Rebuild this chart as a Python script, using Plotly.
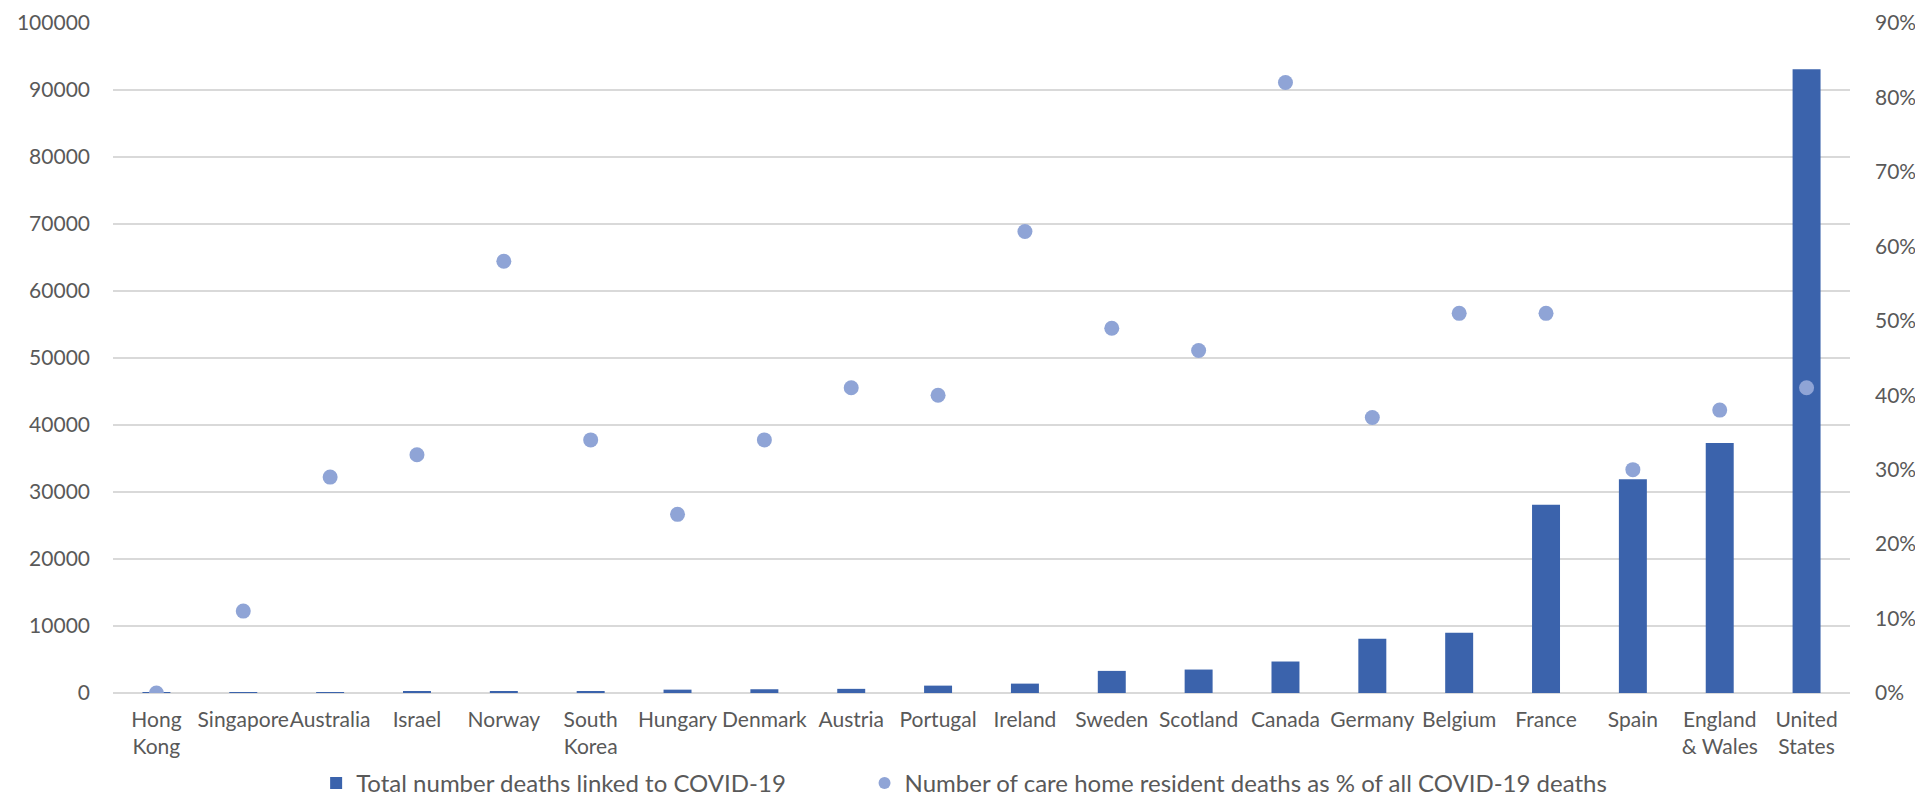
import plotly.graph_objects as go

countries = ["Hong<br>Kong", "Singapore", "Australia", "Israel", "Norway", "South<br>Korea",
             "Hungary", "Denmark", "Austria", "Portugal", "Ireland", "Sweden", "Scotland",
             "Canada", "Germany", "Belgium", "France", "Spain", "England<br>& Wales",
             "United<br>States"]
total_deaths = [4, 26, 102, 280, 240, 280, 500, 560, 620, 1100, 1400, 3300, 3500, 4700,
                8100, 9000, 28100, 31900, 37300, 93100]
care_home_pct = [0.00, 0.11, 0.29, 0.32, 0.58, 0.34, 0.24, 0.34, 0.41, 0.40, 0.62, 0.49,
                 0.46, 0.82, 0.37, 0.51, 0.51, 0.30, 0.38, 0.41]
left_ticks = list(range(0, 100001, 10000))
right_ticks = [i / 10 for i in range(0, 10)]

FONT = "Lato, 'Open Sans', sans-serif"
TEXT = "#595959"
GRID = "#D9D9D9"

fig = go.Figure()
fig.add_trace(go.Bar(
    x=countries, y=total_deaths,
    name="Total number deaths linked to COVID-19" + "\u00a0" * 12,
    marker=dict(color="#3B63AC", line=dict(width=0)), yaxis="y",
))
fig.add_trace(go.Scatter(
    x=countries, y=care_home_pct, mode="markers",
    name="Number of care home resident deaths as % of all COVID-19 deaths",
    marker=dict(color="#8FA4D6", size=15, symbol="circle"), yaxis="y2",
))

# the page body has an 8px margin, so the figure is sized to fit inside the window
fig.update_layout(
    width=1907, height=795,
    margin=dict(l=105, r=65, t=15, b=110, autoexpand=False),
    paper_bgcolor="white", plot_bgcolor="white",
    font=dict(family=FONT, size=21, color=TEXT),
    bargap=0.678,
    showlegend=True,
    legend=dict(orientation="h", x=0.490, xanchor="center", y=-0.135, yanchor="middle",
                font=dict(size=24, color=TEXT), itemsizing="constant",
                traceorder="normal", itemwidth=30),
    xaxis=dict(range=[-0.5, len(countries) - 0.5], autorange=False,
               showgrid=False, showline=False, ticks="", tickangle=0, automargin=False,
               ticklabelstandoff=12, tickfont=dict(size=21, color=TEXT)),
    yaxis=dict(range=[0, 100000], tickvals=left_ticks, ticktext=[str(v) for v in left_ticks],
               showgrid=True, gridcolor=GRID, gridwidth=1.5, automargin=False,
               zeroline=True, zerolinecolor=GRID, zerolinewidth=1.5,
               showline=False, ticks="", ticklabelstandoff=22, ticklabeloverflow="allow",
               tickfont=dict(size=21, color=TEXT)),
    yaxis2=dict(range=[0, 0.9], tickvals=right_ticks, automargin=False,
                ticktext=[f"{int(round(v*100))}%" for v in right_ticks],
                overlaying="y", side="right", showgrid=False, zeroline=False,
                showline=False, ticks="", ticklabelstandoff=24, ticklabeloverflow="allow",
                tickfont=dict(size=21, color=TEXT)),
)

fig.write_html("out.html")
